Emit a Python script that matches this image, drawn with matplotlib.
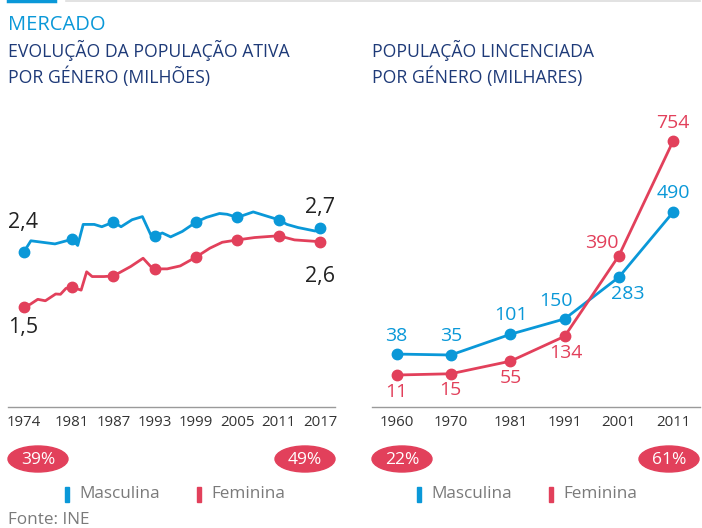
import matplotlib
matplotlib.use("Agg")
import matplotlib.pyplot as plt
from matplotlib.patches import Ellipse, Rectangle

plt.rcParams['font.family'] = ['Open Sans', 'DejaVu Sans']

W, H = 702, 528
BLUE = '#0a98d8'
RED = '#e2405b'
NAVY = '#1e3a78'
GRAY = '#7a7a7a'

# ---- data: active population by gender (millions)
act_years_m = [1974, 1975, 1978.5, 1981, 1981.8, 1982.6, 1984.2, 1985.3, 1987, 1988.1,
               1989.7, 1991.2, 1992.4, 1993, 1994.1, 1995.3, 1997, 1999, 2000.5, 2002.4,
               2003.5, 2005, 2007.3, 2009.5, 2011, 2012.2, 2013.8, 2016.3, 2017]
act_masc = [2.40, 2.54, 2.50, 2.56, 2.48, 2.75, 2.75, 2.72, 2.78, 2.72,
            2.81, 2.85, 2.62, 2.60, 2.64, 2.59, 2.66, 2.78, 2.84, 2.89,
            2.88, 2.84, 2.91, 2.85, 2.81, 2.75, 2.71, 2.665, 2.70]
act_years_f = [1974, 1974.9, 1976, 1977.1, 1978.6, 1979.3, 1980.1, 1981, 1982.3, 1983.1,
               1983.9, 1985.6, 1987, 1989.5, 1991.3, 1992.4, 1993, 1994.8, 1996.7, 1999,
               2001, 2002.8, 2005, 2007.5, 2011, 2013.3, 2017]
act_fem = [1.50, 1.54, 1.625, 1.60, 1.715, 1.71, 1.81, 1.83, 1.78, 2.09,
           2.01, 2.01, 2.02, 2.18, 2.32, 2.18, 2.14, 2.14, 2.19, 2.34,
           2.49, 2.59, 2.63, 2.67, 2.70, 2.63, 2.60]
act_marks = [1974, 1981, 1987, 1993, 1999, 2005, 2011, 2017]

# ---- data: licensed population by gender (thousands)
lic_years = [1960, 1970, 1981, 1991, 2001, 2011]
lic_masc = [38, 35, 101, 150, 283, 490]
lic_fem = [11, 15, 55, 134, 390, 754]


def fx(px):
    return px / W


def fy(py):
    return 1 - py / H


fig = plt.figure(figsize=(W / 100, H / 100), dpi=100)

# top rules
fig.add_artist(plt.Line2D([fx(66), fx(700)], [fy(1), fy(1)], color='#dddddd', lw=1.2))
fig.add_artist(plt.Line2D([fx(8), fx(55)], [fy(1), fy(1)], color=BLUE, lw=2.5))

fig.text(fx(8), fy(30), 'MERCADO', color=BLUE, fontsize=14.5, va='baseline')
fig.text(fx(8), fy(57), 'EVOLUÇÃO DA POPULAÇÃO ATIVA', color=NAVY, fontsize=12.7, va='baseline')
fig.text(fx(8), fy(83), 'POR GÉNERO (MILHÕES)', color=NAVY, fontsize=12.7, va='baseline')
fig.text(fx(372), fy(57), 'POPULAÇÃO LINCENCIADA', color=NAVY, fontsize=12.7, va='baseline')
fig.text(fx(372), fy(83), 'POR GÉNERO (MILHARES)', color=NAVY, fontsize=12.7, va='baseline')


def style(ax):
    for s in ['top', 'left', 'right']:
        ax.spines[s].set_visible(False)
    ax.spines['bottom'].set_color('#9a9a9a')
    ax.spines['bottom'].set_linewidth(1)
    ax.set_yticks([])
    ax.tick_params(axis='x', length=0, pad=6, labelsize=10.8, labelcolor='#333333')
    ax.patch.set_alpha(0)


def pad_vals(years, vals, marks):
    return [v for y, v in zip(years, vals) if y in marks]


# ---- left panel
ax1 = fig.add_axes([fx(8), fy(407), fx(335 - 8), (407 - 100) / H])
ax1b = ax1.twinx()
px_yr = (320 - 24) / (2017 - 1974)
ax1.set_xlim(1974 - 16 / px_yr, 2017 + 15 / px_yr)
ax1.set_ylim(0.409, 4.345)
ax1b.set_ylim(-0.197, 4.997)
ax1.plot(act_years_m, act_masc, color=BLUE, lw=2, solid_joinstyle='round')
ax1.plot(act_marks, pad_vals(act_years_m, act_masc, act_marks), 'o', color=BLUE, ms=7.5)
ax1b.plot(act_years_f, act_fem, color=RED, lw=2, solid_joinstyle='round')
ax1b.plot(act_marks, pad_vals(act_years_f, act_fem, act_marks), 'o', color=RED, ms=7.5)
ax1.set_xticks(act_marks)
ax1.set_xticklabels([str(y) for y in act_marks])
style(ax1)
style(ax1b)
ax1b.spines['bottom'].set_visible(False)

lab_kw = dict(textcoords='offset points', ha='center', va='center', fontsize=15.5, color='#222222')
ax1.annotate('2,4', (act_years_m[0], act_masc[0]), xytext=(-1, 21), **lab_kw)
ax1b.annotate('1,5', (act_years_f[0], act_fem[0]), xytext=(-1, -15), **lab_kw)
ax1.annotate('2,7', (act_years_m[-1], act_masc[-1]), xytext=(0, 15), **lab_kw)
ax1b.annotate('2,6', (act_years_f[-1], act_fem[-1]), xytext=(0, -25), **lab_kw)

# ---- right panel
ax2 = fig.add_axes([fx(372), fy(407), fx(700 - 372), (407 - 100) / H])
ax2b = ax2.twinx()
px_yr2 = (675 - 396.7) / (2011 - 1960)
ax2.set_xlim(1960 - 24.7 / px_yr2, 2011 + 27 / px_yr2)
ax2.set_ylim(-130.6, 847)
ax2b.set_ylim(-90.5, 884)
ax2.plot(lic_years, lic_masc, '-o', color=BLUE, lw=2, ms=7.5)
ax2b.plot(lic_years, lic_fem, '-o', color=RED, lw=2, ms=7.5)
ax2.set_xticks(lic_years)
ax2.set_xticklabels([str(y) for y in lic_years])
style(ax2)
style(ax2b)
ax2b.spines['bottom'].set_visible(False)

m_off = [(0, 13), (0, 14), (0, 14), (-6, 13), (6, -12), (0, 14)]
f_off = [(0, -12), (0, -12), (0, -12), (1, -12), (-12, 9), (0, 13)]
for x, v, o in zip(lic_years, lic_masc, m_off):
    ax2.annotate(str(v), (x, v), xytext=o, textcoords='offset points', ha='center',
                 va='center', fontsize=14, color=BLUE)
for x, v, o in zip(lic_years, lic_fem, f_off):
    ax2b.annotate(str(v), (x, v), xytext=o, textcoords='offset points', ha='center',
                  va='center', fontsize=14, color=RED)

# ---- percentage pills
pills = [(38, '39%'), (305, '49%'), (402, '22%'), (669, '61%')]
for cx, txt in pills:
    fig.add_artist(Ellipse((fx(cx), fy(459)), 60 / W, 26 / H, color=RED, transform=fig.transFigure))
    fig.text(fx(cx), fy(460), txt, color='white', fontsize=12.5, ha='center', va='center')

# ---- legends
for lx in [65, 417]:
    fig.add_artist(Rectangle((fx(lx), fy(502)), 4 / W, 15 / H, color=BLUE, transform=fig.transFigure))
    fig.text(fx(lx + 14), fy(494), 'Masculina', color=GRAY, fontsize=12.3, va='center')
    fig.add_artist(Rectangle((fx(lx + 132), fy(502)), 4 / W, 15 / H, color=RED, transform=fig.transFigure))
    fig.text(fx(lx + 146), fy(494), 'Feminina', color=GRAY, fontsize=12.3, va='center')

fig.text(fx(8), fy(520), 'Fonte: INE', color=GRAY, fontsize=12.3, va='center')

fig.savefig('out.png', dpi=100)
